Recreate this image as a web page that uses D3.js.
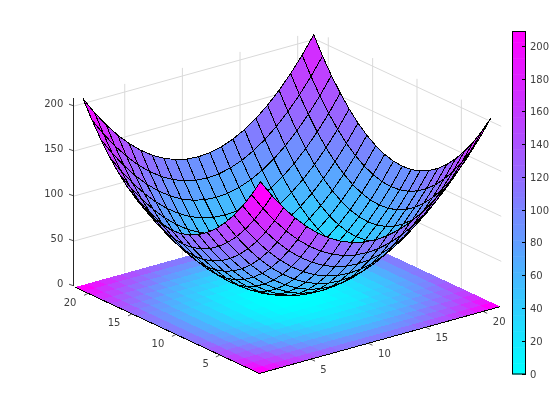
<!DOCTYPE html>
<html><head><meta charset="utf-8">
<style>html,body{margin:0;padding:0;background:#fff}svg{display:block;will-change:transform}text{font-family:"DejaVu Sans",sans-serif;font-size:10px;fill:#404040}</style>
<script src="https://cdn.jsdelivr.net/npm/d3@7"></script></head><body><svg id="c" width="560" height="420"></svg>
<script>
const xValues=[1,2,3,4,5,6,7,8,9,10,11,12,13,14,15,16,17,18,19,20,21];
const yValues=[1,2,3,4,5,6,7,8,9,10,11,12,13,14,15,16,17,18,19,20,21];
// height of the mesh
const surfaceRows=[
[209,190,173,158,145,134,125,118,113,110,109,110,113,118,125,134,145,158,173,190,209],
[190,171,154,139,126,115,106,99,94,91,90,91,94,99,106,115,126,139,154,171,190],
[173,154,137,122,109,98,89,82,77,74,73,74,77,82,89,98,109,122,137,154,173],
[158,139,122,107,94,83,74,67,62,59,58,59,62,67,74,83,94,107,122,139,158],
[145,126,109,94,81,70,61,54,49,46,45,46,49,54,61,70,81,94,109,126,145],
[134,115,98,83,70,59,50,43,38,35,34,35,38,43,50,59,70,83,98,115,134],
[125,106,89,74,61,50,41,34,29,26,25,26,29,34,41,50,61,74,89,106,125],
[118,99,82,67,54,43,34,27,22,19,18,19,22,27,34,43,54,67,82,99,118],
[113,94,77,62,49,38,29,22,17,14,13,14,17,22,29,38,49,62,77,94,113],
[110,91,74,59,46,35,26,19,14,11,10,11,14,19,26,35,46,59,74,91,110],
[109,90,73,58,45,34,25,18,13,10,9,10,13,18,25,34,45,58,73,90,109],
[110,91,74,59,46,35,26,19,14,11,10,11,14,19,26,35,46,59,74,91,110],
[113,94,77,62,49,38,29,22,17,14,13,14,17,22,29,38,49,62,77,94,113],
[118,99,82,67,54,43,34,27,22,19,18,19,22,27,34,43,54,67,82,99,118],
[125,106,89,74,61,50,41,34,29,26,25,26,29,34,41,50,61,74,89,106,125],
[134,115,98,83,70,59,50,43,38,35,34,35,38,43,50,59,70,83,98,115,134],
[145,126,109,94,81,70,61,54,49,46,45,46,49,54,61,70,81,94,109,126,145],
[158,139,122,107,94,83,74,67,62,59,58,59,62,67,74,83,94,107,122,139,158],
[173,154,137,122,109,98,89,82,77,74,73,74,77,82,89,98,109,122,137,154,173],
[190,171,154,139,126,115,106,99,94,91,90,91,94,99,106,115,126,139,154,171,190],
[209,190,173,158,145,134,125,118,113,110,109,110,113,118,125,134,145,158,173,190,209]];
// colour values of the flat tiles on the floor
const floorRows=[
[209,189,171,156,142,131,121,114,109,106,105,106,109,114,121,131,142,156,171,189,209],
[189,169,152,136,122,111,101,94,89,86,85,86,89,94,101,111,122,136,152,169,189],
[171,152,134,118,105,93,84,76,71,68,67,68,71,76,84,93,105,118,134,152,171],
[156,136,118,102,89,77,68,61,55,52,51,52,55,61,68,77,89,102,118,136,156],
[142,122,105,89,75,64,54,47,42,39,38,39,42,47,54,64,75,89,105,122,142],
[131,111,93,77,64,52,43,36,30,27,26,27,30,36,43,52,64,77,93,111,131],
[121,101,84,68,54,43,33,26,21,18,17,18,21,26,33,43,54,68,84,101,121],
[114,94,76,61,47,36,26,19,14,10,9,10,14,19,26,36,47,61,76,94,114],
[109,89,71,55,42,30,21,14,8,5,4,5,8,14,21,30,42,55,71,89,109],
[106,86,68,52,39,27,18,10,5,2,1,2,5,10,18,27,39,52,68,86,106],
[105,85,67,51,38,26,17,9,4,1,0,1,4,9,17,26,38,51,67,85,105],
[106,86,68,52,39,27,18,10,5,2,1,2,5,10,18,27,39,52,68,86,106],
[109,89,71,55,42,30,21,14,8,5,4,5,8,14,21,30,42,55,71,89,109],
[114,94,76,61,47,36,26,19,14,10,9,10,14,19,26,36,47,61,76,94,114],
[121,101,84,68,54,43,33,26,21,18,17,18,21,26,33,43,54,68,84,101,121],
[131,111,93,77,64,52,43,36,30,27,26,27,30,36,43,52,64,77,93,111,131],
[142,122,105,89,75,64,54,47,42,39,38,39,42,47,54,64,75,89,105,122,142],
[156,136,118,102,89,77,68,61,55,52,51,52,55,61,68,77,89,102,118,136,156],
[171,152,134,118,105,93,84,76,71,68,67,68,71,76,84,93,105,118,134,152,171],
[189,169,152,136,122,111,101,94,89,86,85,86,89,94,101,111,122,136,152,169,189],
[209,189,171,156,142,131,121,114,109,106,105,106,109,114,121,131,142,156,171,189,209]];
const xTicks=[5,10,15,20], yTicks=[5,10,15,20], zTicks=[0,50,100,150,200];
const barTicks=[0,20,40,60,80,100,120,140,160,180,200];
const xLim=[0.5,21.5], yLim=[0.5,21.5], zLim=[0,209];
const colorCount=64;

const svg=d3.select('#c');
const xToSx=d3.scaleLinear().domain([0,1]).range([0,11.53]);
const xToSy=d3.scaleLinear().domain([0,1]).range([0,-3.2]);
const yToSx=d3.scaleLinear().domain([0,1]).range([0,-8.87]);
const yToSy=d3.scaleLinear().domain([0,1]).range([0,-4.15]);
const zToSy=d3.scaleLinear().domain([0,209]).range([0,-188.1]);
const origin=[257.8,377.2];
const P=(x,y,z)=>[origin[0]+xToSx(x)+yToSx(y), origin[1]+xToSy(x)+yToSy(y)+zToSy(z)];
const edgeX=d3.scaleLinear().domain([0.5,21.5]).range([0.6,21.5]);
const edgeY=d3.scaleLinear().domain([0.5,21.5]).range([0.6,21.4]);
const B=(x,y)=>{const p=P(edgeX(x),edgeY(y),0);return [p[0],p[1]+.7];};
const levels=d3.range(colorCount).map(i=>{const t=i/(colorCount-1);return d3.rgb(255*t,255*(1-t),255).formatHex();});
const color=d3.scaleQuantize().domain(zLim).range(levels);
const line=d3.line();
const GRID='#d9d9d9', AXIS='#262626';
const seg=(a,b,col,w,crisp)=>svg.append('path').attr('d',line([a,b])).attr('fill','none').attr('stroke',col).attr('stroke-width',w||1).attr('shape-rendering',crisp?'crispEdges':'auto');

zTicks.filter(z=>z>0).forEach(z=>{
  seg(P(xLim[0],yLim[1],z),P(xLim[1],yLim[1],z),GRID);
  seg(P(xLim[1],yLim[1],z),P(xLim[1],yLim[0],z),GRID);
});
xTicks.forEach(x=>seg(P(x,yLim[1],0),P(x,yLim[1],zLim[1]),GRID));
yTicks.forEach(y=>seg(P(xLim[1],y,0),P(xLim[1],y,zLim[1]),GRID));

const base=svg.append('g').attr('shape-rendering','crispEdges');
for(let j=yValues.length-1;j>=0;j--)for(let i=xValues.length-1;i>=0;i--){
  const x=xValues[i],y=yValues[j];
  base.append('path').attr('d',line([B(x-.5,y-.5),B(x+.5,y-.5),B(x+.5,y+.5),B(x-.5,y+.5)])+'Z')
    .attr('fill',color(floorRows[j][i]));
}

seg(B(xLim[0],yLim[1]),B(xLim[0],yLim[0]),'#000',1,true);
seg(B(xLim[0],yLim[0]),B(xLim[1],yLim[0]),'#000',1,true);
const zAxisX=73.3, zBase=285.7;
seg([zAxisX,zBase],[zAxisX,zBase+zToSy(209)],AXIS,1,true);

const xLabelDx=t=>t<10?12.3:16, yLabelDx=t=>t<10?-14.2:-18;
xTicks.forEach(x=>{const p=B(x,yLim[0]);
  seg(p,[p[0]+4,p[1]+2],AXIS,.8);
  svg.append('text').attr('x',p[0]+xLabelDx(x)).attr('y',p[1]+14).attr('text-anchor','middle').text(x);});
yTicks.forEach(y=>{const p=B(xLim[0],y);
  seg(p,[p[0]-4,p[1]+2],AXIS,.8);
  svg.append('text').attr('x',p[0]+yLabelDx(y)).attr('y',p[1]+12.4).attr('text-anchor','middle').text(y);});
zTicks.forEach(z=>{const y=zBase+zToSy(z);
  seg([zAxisX-4.3,y-1.5],[zAxisX,y],AXIS,.8);
  svg.append('text').attr('x',zAxisX-10).attr('y',y+1.3).attr('text-anchor','end').text(z);});

const surf=svg.append('g');
for(let i=xValues.length-2;i>=0;i--)for(let j=yValues.length-2;j>=0;j--){
  const pts=[[i,j],[i+1,j],[i+1,j+1],[i,j+1]].map(([a,b])=>P(xValues[a],yValues[b],surfaceRows[b][a]));
  surf.append('path').attr('d',line(pts)+'Z').attr('fill',color(surfaceRows[j][i]))
    .attr('stroke','#000').attr('stroke-width',1).attr('stroke-linejoin','round').attr('shape-rendering','crispEdges');
}

const barY=d3.scaleLinear().domain(zLim).range([374,31.5]);
const barX0=512.5,barW=13;
levels.forEach((c,i)=>{const z0=zLim[1]*i/colorCount,z1=zLim[1]*(i+1)/colorCount;
  svg.append('rect').attr('x',barX0).attr('width',barW).attr('y',barY(z1)).attr('height',barY(z0)-barY(z1)+.5).attr('fill',c);});
svg.append('rect').attr('x',barX0).attr('y',31.5).attr('width',barW).attr('height',342.5).attr('fill','none').attr('stroke','#000');
barTicks.forEach(t=>{
  seg([barX0+barW-3.5,barY(t)],[barX0+barW,barY(t)],'#000',1,true);
  svg.append('text').attr('x',530).attr('y',barY(t)+3.6).text(t);});
</script></body></html>
